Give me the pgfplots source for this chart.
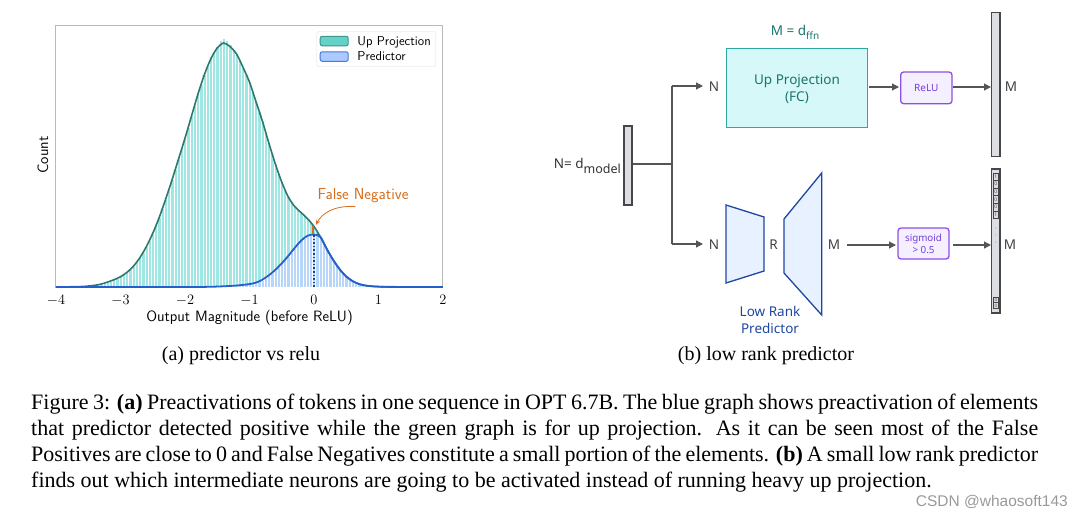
\documentclass[border=0pt]{standalone}
\usepackage{fontspec}
\usepackage{pgfplots}
\usepackage{pgfplotstable}
\pgfplotsset{compat=1.18}
\usetikzlibrary{arrows.meta}

\newfontfamily\capfont{Liberation Serif}
\newfontfamily\dgfont{Noto Sans}
\newfontfamily\wmfont{Liberation Sans}

\definecolor{cyanbar}{RGB}{160,230,226}
\definecolor{bluebar}{RGB}{184,213,250}
\definecolor{legcyan}{RGB}{100,210,200}
\definecolor{legcyanedge}{RGB}{60,150,140}
\definecolor{legblue}{RGB}{172,202,255}
\definecolor{legblueedge}{RGB}{70,120,230}
\definecolor{greenline}{RGB}{45,120,110}
\definecolor{blueline}{RGB}{35,95,205}
\definecolor{dotblue}{RGB}{20,70,150}
\definecolor{fnorange}{RGB}{214,110,30}
\definecolor{arrgray}{RGB}{85,85,85}
\definecolor{upfill}{RGB}{214,248,248}
\definecolor{updraw}{RGB}{45,170,160}
\definecolor{uptext}{RGB}{25,115,108}
\definecolor{purdraw}{RGB}{140,80,230}
\definecolor{purfill}{RGB}{244,240,255}
\definecolor{purtext}{RGB}{120,60,220}
\definecolor{trapfill}{RGB}{232,241,255}
\definecolor{trapdraw}{RGB}{30,70,160}
\definecolor{vecfill}{RGB}{220,222,228}
\definecolor{vecdraw}{RGB}{70,70,70}

% histogram bars, width 0.05 (peak = 1)
\pgfplotstableread{
x g
-3.50 0.005
-3.45 0.006
-3.40 0.008
-3.35 0.010
-3.30 0.013
-3.25 0.016
-3.20 0.021
-3.15 0.025
-3.10 0.031
-3.05 0.036
-3.00 0.043
-2.95 0.051
-2.90 0.061
-2.85 0.072
-2.80 0.086
-2.75 0.101
-2.70 0.121
-2.65 0.142
-2.60 0.166
-2.55 0.192
-2.50 0.221
-2.45 0.252
-2.40 0.287
-2.35 0.322
-2.30 0.362
-2.25 0.400
-2.20 0.442
-2.15 0.483
-2.10 0.527
-2.05 0.568
-2.00 0.612
-1.95 0.655
-1.90 0.703
-1.85 0.745
-1.80 0.793
-1.75 0.832
-1.70 0.874
-1.65 0.905
-1.60 0.940
-1.55 0.962
-1.50 0.988
-1.45 1.010
-1.40 1.020
-1.35 1.012
-1.30 0.995
-1.25 0.975
-1.20 0.958
-1.15 0.930
-1.10 0.902
-1.05 0.872
-1.00 0.842
-0.95 0.800
-0.90 0.762
-0.85 0.720
-0.80 0.682
-0.75 0.636
-0.70 0.592
-0.65 0.548
-0.60 0.507
-0.55 0.466
-0.50 0.432
-0.45 0.398
-0.40 0.372
-0.35 0.350
-0.30 0.332
-0.25 0.317
-0.20 0.306
-0.15 0.293
-0.10 0.281
-0.05 0.266
0.00 0.248
0.05 0.228
0.10 0.206
0.15 0.181
0.20 0.156
0.25 0.132
0.30 0.110
0.35 0.090
0.40 0.072
0.45 0.056
0.50 0.043
0.55 0.032
0.60 0.024
0.65 0.017
0.70 0.012
0.75 0.009
0.80 0.006
0.85 0.004
0.90 0.003
0.95 0.002
1.00 0.0015
}\greenbars

\pgfplotstableread{
x b
-1.50 0.002
-1.45 0.002
-1.40 0.003
-1.35 0.003
-1.30 0.004
-1.25 0.005
-1.20 0.006
-1.15 0.007
-1.10 0.009
-1.05 0.010
-1.00 0.012
-0.95 0.015
-0.90 0.018
-0.85 0.024
-0.80 0.030
-0.75 0.038
-0.70 0.048
-0.65 0.058
-0.60 0.070
-0.55 0.083
-0.50 0.097
-0.45 0.112
-0.40 0.127
-0.35 0.143
-0.30 0.160
-0.25 0.176
-0.20 0.190
-0.15 0.201
-0.10 0.210
-0.05 0.214
0.00 0.215
0.05 0.212
0.10 0.204
0.15 0.181
0.20 0.156
0.25 0.132
0.30 0.110
0.35 0.090
0.40 0.072
0.45 0.056
0.50 0.043
0.55 0.032
0.60 0.024
0.65 0.017
0.70 0.012
0.75 0.009
0.80 0.006
0.85 0.004
0.90 0.003
0.95 0.002
1.00 0.0015
}\bluebars

% density curves
\pgfplotstableread{
x y
-4.0 0
-3.6 0.002
-3.4 0.007
-3.3 0.012
-3.2 0.02
-3.1 0.03
-3.0 0.042
-2.9 0.06
-2.8 0.085
-2.7 0.12
-2.6 0.165
-2.5 0.22
-2.4 0.285
-2.3 0.36
-2.2 0.44
-2.1 0.525
-2.0 0.61
-1.9 0.70
-1.8 0.79
-1.7 0.87
-1.6 0.935
-1.5 0.98
-1.4 1.0
-1.3 0.985
-1.2 0.955
-1.1 0.90
-1.0 0.84
-0.9 0.76
-0.8 0.68
-0.7 0.59
-0.6 0.505
-0.5 0.43
-0.4 0.37
-0.3 0.33
-0.2 0.305
-0.1 0.28
0.0 0.248
0.1 0.205
0.2 0.155
0.3 0.11
0.4 0.072
0.5 0.043
0.6 0.024
0.7 0.012
0.8 0.006
0.9 0.003
1.0 0.0015
1.2 0.0005
2.0 0
}\greenkde

\pgfplotstableread{
x y
-4.0 0
-2.0 0
-1.6 0.001
-1.4 0.003
-1.2 0.006
-1.0 0.012
-0.9 0.018
-0.8 0.03
-0.7 0.048
-0.6 0.07
-0.5 0.097
-0.4 0.127
-0.3 0.16
-0.2 0.19
-0.1 0.21
0.0 0.215
0.1 0.205
0.2 0.155
0.3 0.11
0.4 0.072
0.5 0.043
0.6 0.024
0.7 0.012
0.8 0.006
0.9 0.003
1.0 0.0015
1.2 0.0005
2.0 0
}\bluekde

\begin{document}
\begin{tikzpicture}
\useasboundingbox (0,0) rectangle (1080pt,-517pt);

\begin{axis}[
    at={(56pt,-287pt)}, anchor=south west,
    width=387pt, height=262pt, scale only axis,
    xmin=-4, xmax=2, ymin=0, ymax=1.074,
    xtick={-4,-3,...,2}, ytick=\empty,
    xticklabel={\fontsize{13.5}{15}\selectfont$\pgfmathprintnumber{\tick}$},
    major tick length=0pt,
    axis line style={draw=gray!55, line width=1pt},
    xticklabel style={anchor=center, yshift=-13pt},
    xlabel={Output Magnitude (before ReLU)},
    ylabel={Count},
    label style={font=\sffamily\fontsize{15}{17}\selectfont},
    xlabel style={at={(axis description cs:0.5,-0.118)}, anchor=center},
    ylabel style={at={(axis description cs:-0.034,0.504)}, anchor=center},
    legend style={at={(0.982,0.976)}, anchor=north east, draw=gray!25,
        rounded corners=2pt, font=\sffamily\fontsize{13}{15}\selectfont,
        row sep=0pt, inner xsep=3pt, inner ysep=2pt,
        nodes={inner ysep=2.5pt}},
    legend cell align=left,
]
\addlegendimage{legend image code/.code={\draw[fill=legcyan,draw=legcyanedge,line width=1pt] (0pt,-4.5pt) rectangle (28pt,5pt); \path (35pt,0pt);}}
\addlegendentry{Up Projection}
\addlegendimage{legend image code/.code={\draw[fill=legblue,draw=legblueedge,line width=1pt] (0pt,-4.5pt) rectangle (28pt,5pt); \path (35pt,0pt);}}
\addlegendentry{Predictor}

\addplot[ybar, bar width=0.05, bar shift=0pt, fill=cyanbar, draw=white, line width=0.35pt, forget plot] table[x=x,y=g] {\greenbars};
\addplot[ybar, bar width=0.05, bar shift=0pt, fill=bluebar, draw=white, line width=0.35pt, forget plot] table[x=x,y=b] {\bluebars};
\addplot[greenline, line width=1.6pt, smooth, tension=0.5, forget plot] table {\greenkde};
\addplot[blueline, line width=1.8pt, smooth, tension=0.5, forget plot] table {\bluekde};
\addplot[dotblue, line width=1.6pt, dotted, forget plot] coordinates {(0,0) (0,0.215)};
\addplot[fnorange, line width=2.2pt, forget plot] coordinates {(-0.012,0.218) (-0.012,0.25)};

\node[text=fnorange, font=\sffamily\fontsize{16}{18}\selectfont] at (axis cs:0.76,0.373) {False Negative};
\draw[fnorange, line width=0.8pt, -{Stealth[length=5pt,width=4pt]}]
    (axis cs:0.64,0.33) .. controls (axis cs:0.3,0.335) and (axis cs:0.12,0.30) .. (axis cs:0.03,0.255);
\end{axis}

\begin{scope}[x=1pt, y=-1pt]
  \tikzset{arr/.style={draw=arrgray, line width=1.2pt, -{Triangle[length=7pt,width=7pt]}},
           lab/.style={text=black!75, font=\dgfont\fontsize{13.5}{15}\selectfont}}
  % input vector and branching
  \draw[fill=vecfill, draw=vecdraw, line width=1.3pt] (624,126) rectangle (632,205);
  \node[anchor=east, inner sep=0, text=black!80, font=\dgfont\fontsize{13.5}{15}\selectfont] at (621,166)
      {N= d\raisebox{-5pt}{\fontsize{12.5}{14}\selectfont model}};
  \draw[draw=arrgray, line width=1.2pt] (633,164) -- (672,164);
  \draw[draw=arrgray, line width=1.2pt] (672,86) -- (672,244);
  \draw[arr] (672,86) -- (703,86);
  \draw[arr] (672,244) -- (703,244);
  \node[lab] at (714,87) {N};
  \node[lab] at (714,245) {N};

  % up projection branch
  \node[text=uptext, font=\dgfont\fontsize{13.5}{15}\selectfont] at (795,32)
      {M = d\raisebox{-4pt}{\fontsize{10}{11}\selectfont ffn}};
  \draw[fill=upfill, draw=updraw, line width=1.5pt] (726.7,48.3) rectangle (867.7,127.7);
  \node[text=uptext, align=center, font=\dgfont\fontsize{13.5}{16.5}\selectfont] at (797,89) {Up Projection\\(FC)};
  \draw[arr] (869,87) -- (899,87);
  \draw[fill=purfill, draw=purdraw, line width=1.3pt, rounded corners=3pt] (900.7,72) rectangle (952,103.7);
  \node[text=purtext, font=\dgfont\fontsize{10}{11}\selectfont] at (926.3,88) {ReLU};
  \draw[arr] (953,87) -- (991,87);
  \draw[fill=vecfill, draw=vecdraw, line width=1.3pt] (991.7,12.7) rectangle (1000,156.7);
  \node[lab] at (1011,87) {M};

  % low rank predictor branch
  \draw[fill=trapfill, draw=trapdraw, line width=1.3pt] (726,205) -- (764,217) -- (764,271) -- (726,283) -- cycle;
  \draw[fill=trapfill, draw=trapdraw, line width=1.3pt] (784,219) -- (821.7,173) -- (821.7,315) -- (784,273) -- cycle;
  \node[lab] at (773.5,245) {R};
  \node[lab] at (834,245) {M};
  \node[text=trapdraw, align=center, font=\dgfont\fontsize{13.5}{16.5}\selectfont] at (770,320) {Low Rank\\Predictor};
  \draw[arr] (847,245) -- (896,245);
  \draw[fill=purfill, draw=purdraw, line width=1.3pt, rounded corners=3pt] (898,228) rectangle (949,259);
  \node[text=purtext, align=center, font=\dgfont\fontsize{9.8}{12}\selectfont] at (923.5,243.5) {sigmoid\\> 0.5};
  \draw[arr] (953,245) -- (991,245);
  \draw[fill=vecfill, draw=vecdraw, line width=1.3pt] (991.7,169) rectangle (1000,313);
  \foreach \i/\v in {0/1,1/0,2/0,3/0,4/0,5/1} {
    \draw[draw=vecdraw, line width=0.4pt] (993.2,172.7+7.6*\i) rectangle (998.5,180.3+7.6*\i);
    \node[inner sep=0, text=black!70, font=\dgfont\fontsize{5}{5}\selectfont] at (995.85,176.5+7.6*\i) {\v};
  }
  \foreach \yy in {228,235,242} { \fill[black!50] (995.85,\yy) circle (0.5pt); }
  \foreach \i in {0,1} {
    \draw[draw=vecdraw, line width=0.4pt] (993.2,296.7+5.8*\i) rectangle (998.5,302.5+5.8*\i);
    \node[inner sep=0, text=black!70, font=\dgfont\fontsize{4.5}{5}\selectfont] at (995.85,299.6+5.8*\i) {0};
  }
  \node[lab] at (1010,245) {M};

  % captions
  \node[anchor=base, inner sep=0, font=\capfont\fontsize{20}{24}\selectfont] at (241,360) {(a) predictor vs relu};
  \node[anchor=base, inner sep=0, font=\capfont\fontsize{20}{24}\selectfont] at (766,360) {(b) low rank predictor};
  \node[anchor=north west, inner sep=0, text width=1007pt, align=justify,
        font=\capfont\fontsize{22}{26}\selectfont] at (31,394)
  {Figure 3: \textbf{(a)} Preactivations of tokens in one sequence in OPT 6.7B. The blue graph shows preactivation of elements\linebreak
   that predictor detected positive while the green graph is for up projection.  As it can be seen most of the False\linebreak
   Positives are close to 0 and False Negatives constitute a small portion of the elements. \textbf{(b)} A small low rank predictor\linebreak
   finds out which intermediate neurons are going to be activated instead of running heavy up projection.};
  \node[anchor=base east, inner sep=0, text=black!40, font=\wmfont\fontsize{15.5}{17}\selectfont] at (1068,506) {CSDN @whaosoft143};
\end{scope}
\end{tikzpicture}
\end{document}
